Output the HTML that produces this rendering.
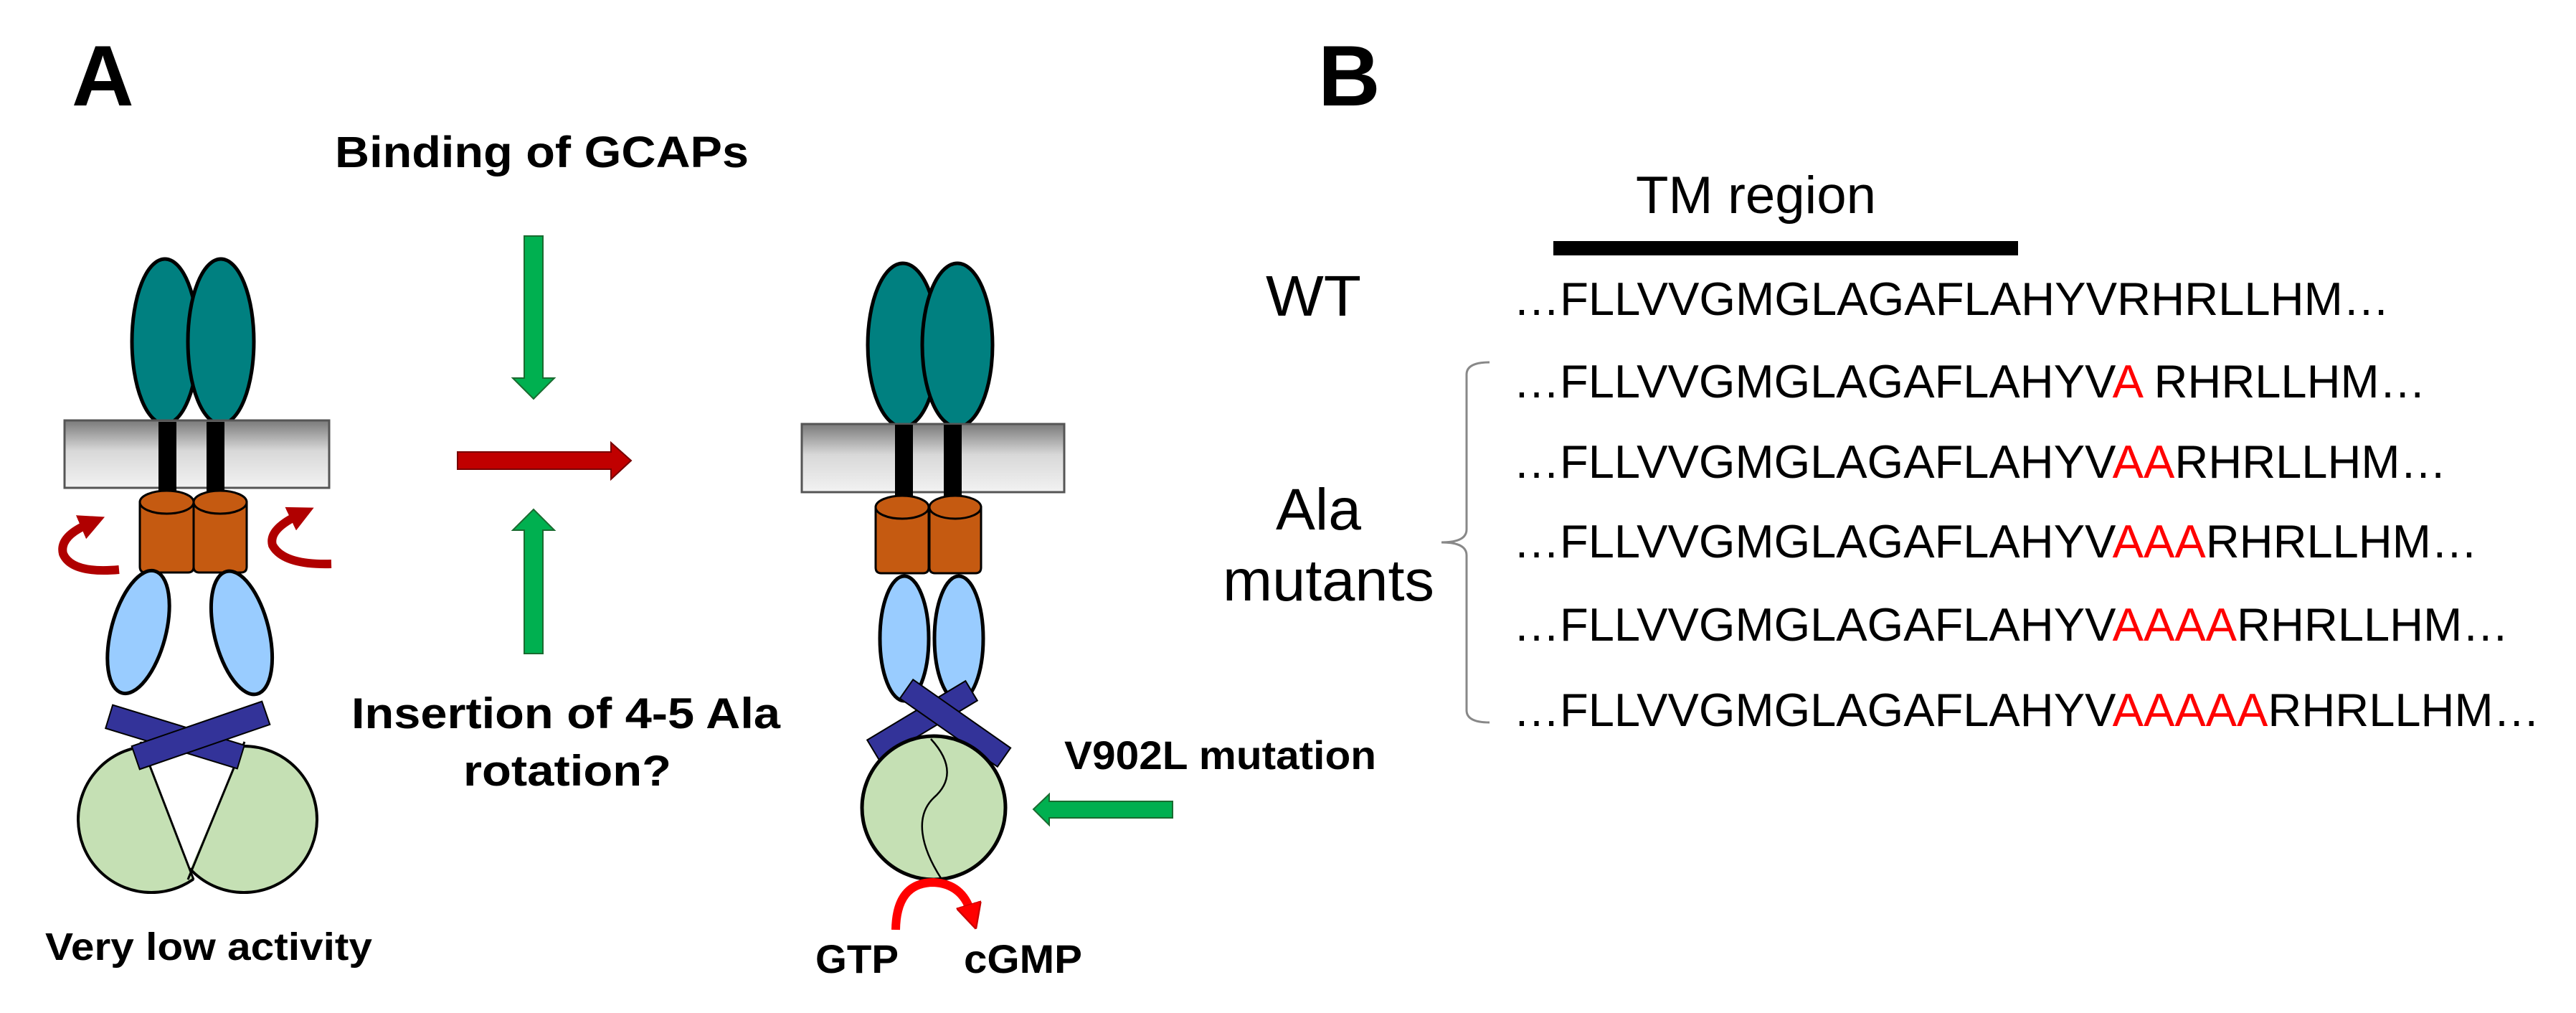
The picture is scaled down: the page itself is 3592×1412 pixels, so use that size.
<!DOCTYPE html>
<html><head><meta charset="utf-8"><style>
html,body{margin:0;padding:0;background:#fff;}
svg{display:block;}
</style></head><body>
<svg width="3592" height="1412" viewBox="0 0 3592 1412" xmlns="http://www.w3.org/2000/svg">
<defs>
<linearGradient id="mem" x1="0" y1="0" x2="0" y2="1">
<stop offset="0" stop-color="#7a7a7a"/><stop offset="0.45" stop-color="#d8d8d8"/><stop offset="1" stop-color="#f2f2f2"/>
</linearGradient>
<clipPath id="cl"><polygon points="0,900 144,900 299,1300 0,1300"/></clipPath>
<clipPath id="cr"><polygon points="399,900 600,900 600,1300 227,1300"/></clipPath>
<marker id="rh" markerWidth="3" markerHeight="3" refX="1" refY="1.5" orient="auto" markerUnits="strokeWidth">
<path d="M0,0 L3,1.5 L0,3 Z" fill="#B00000"/></marker>
<marker id="rh2" markerWidth="3" markerHeight="3" refX="1" refY="1.5" orient="auto" markerUnits="strokeWidth">
<path d="M0,0 L3,1.5 L0,3 Z" fill="#FF0000" stroke="#c00" stroke-width="0.2"/></marker>
</defs>
<g font-family="'Liberation Sans', Arial, sans-serif">
<text x="100" y="147" font-size="120" font-weight="bold">A</text>
<text x="1838" y="147" font-size="120" font-weight="bold">B</text>

<text x="467" y="233" font-size="61" font-weight="bold" textLength="577" lengthAdjust="spacingAndGlyphs">Binding of GCAPs</text>

<!-- LEFT PROTEIN -->
<ellipse cx="230" cy="476" rx="46" ry="115" fill="#008080" stroke="#000" stroke-width="5"/>
<ellipse cx="308" cy="476" rx="46" ry="115" fill="#008080" stroke="#000" stroke-width="5"/>
<rect x="90" y="586" width="369" height="94" fill="url(#mem)" stroke="#555" stroke-width="3"/>
<rect x="221" y="588" width="25" height="106" fill="#000"/>
<rect x="288" y="588" width="25" height="106" fill="#000"/>
<g fill="#C55A11" stroke="#000" stroke-width="3">
<path d="M195,700 L195,790 Q195,798 203,798 L262,798 Q270,798 270,790 L270,700 Z"/>
<ellipse cx="232.5" cy="700" rx="37.5" ry="16"/>
<path d="M270,700 L270,790 Q270,798 278,798 L336,798 Q344,798 344,790 L344,700 Z"/>
<ellipse cx="307" cy="700" rx="37" ry="16"/>
</g>
<path d="M166,794 Q100,800 88,772 Q82,748 124,730" fill="none" stroke="#B00000" stroke-width="12" marker-end="url(#rh)"/>
<path d="M462,786 Q395,788 380,760 Q374,738 416,718" fill="none" stroke="#B00000" stroke-width="12" marker-end="url(#rh)"/>
<ellipse cx="193" cy="881" rx="38" ry="88" transform="rotate(15 193 881)" fill="#99CCFF" stroke="#000" stroke-width="5"/>
<ellipse cx="337" cy="882" rx="38" ry="88" transform="rotate(-14 337 882)" fill="#99CCFF" stroke="#000" stroke-width="5"/>
<circle cx="211" cy="1142" r="102" fill="#C5E0B4" stroke="#000" stroke-width="4" clip-path="url(#cl)"/>
<circle cx="340" cy="1142" r="102" fill="#C5E0B4" stroke="#000" stroke-width="4" clip-path="url(#cr)"/>
<line x1="196" y1="1034" x2="270" y2="1226" stroke="#000" stroke-width="3"/>
<line x1="341" y1="1034" x2="262" y2="1226" stroke="#000" stroke-width="3"/>
<rect x="148" y="1010" width="192" height="34" transform="rotate(17 244 1027)" fill="#333399" stroke="#000" stroke-width="2"/>
<rect x="184" y="1008" width="192" height="34" transform="rotate(-19 280 1025)" fill="#333399" stroke="#000" stroke-width="2"/>

<text x="63" y="1338" font-size="54" font-weight="bold" textLength="456" lengthAdjust="spacingAndGlyphs">Very low activity</text>

<!-- MIDDLE ARROWS -->
<polygon points="731,329 757,329 757,527 773,527 744,556 715,527 731,527" fill="#00B050" stroke="#1a6b30" stroke-width="2"/>
<polygon points="731,911 757,911 757,739 773,739 744,710 715,739 731,739" fill="#00B050" stroke="#1a6b30" stroke-width="2"/>
<polygon points="638,630 852,630 852,617 880,642 852,668 852,654 638,654" fill="#C00000" stroke="#700" stroke-width="2"/>

<text x="490" y="1015" font-size="60" font-weight="bold" textLength="598" lengthAdjust="spacingAndGlyphs">Insertion of 4-5 Ala</text>
<text x="646" y="1095" font-size="60" font-weight="bold" textLength="290" lengthAdjust="spacingAndGlyphs">rotation?</text>

<!-- RIGHT PROTEIN -->
<ellipse cx="1259" cy="481" rx="49" ry="114" fill="#008080" stroke="#000" stroke-width="5"/>
<ellipse cx="1335" cy="481" rx="49" ry="114" fill="#008080" stroke="#000" stroke-width="5"/>
<rect x="1118" y="591" width="366" height="95" fill="url(#mem)" stroke="#555" stroke-width="3"/>
<rect x="1248" y="592" width="25" height="110" fill="#000"/>
<rect x="1316" y="592" width="25" height="110" fill="#000"/>
<g fill="#C55A11" stroke="#000" stroke-width="3">
<path d="M1221,707 L1221,791 Q1221,799 1229,799 L1287,799 Q1295,799 1295,791 L1295,707 Z"/>
<ellipse cx="1258" cy="707" rx="37" ry="16"/>
<path d="M1296,707 L1296,791 Q1296,799 1304,799 L1360,799 Q1368,799 1368,791 L1368,707 Z"/>
<ellipse cx="1332" cy="707" rx="36" ry="16"/>
</g>
<ellipse cx="1261" cy="890" rx="34" ry="87" fill="#99CCFF" stroke="#000" stroke-width="5"/>
<ellipse cx="1337" cy="890" rx="34" ry="87" fill="#99CCFF" stroke="#000" stroke-width="5"/>
<rect x="1206" y="988" width="160" height="32" transform="rotate(-31 1286 1004)" fill="#333399" stroke="#000" stroke-width="2"/>
<rect x="1249" y="992" width="166" height="32" transform="rotate(35 1332 1008)" fill="#333399" stroke="#000" stroke-width="2"/>
<circle cx="1302" cy="1126" r="100" fill="#C5E0B4" stroke="#000" stroke-width="5"/>
<path d="M1298,1030 C1330,1065 1325,1092 1302,1112 C1275,1138 1284,1180 1312,1224" fill="none" stroke="#000" stroke-width="2.5"/>
<path d="M1249,1296 Q1250,1230 1302,1230 Q1342,1232 1354,1272" fill="none" stroke="#FF0000" stroke-width="12" marker-end="url(#rh2)"/>
<text x="1137" y="1356" font-size="56" font-weight="bold" textLength="116" lengthAdjust="spacingAndGlyphs">GTP</text>
<text x="1344" y="1356" font-size="56" font-weight="bold" textLength="165" lengthAdjust="spacingAndGlyphs">cGMP</text>
<polygon points="1441,1128 1463,1107 1463,1117 1635,1117 1635,1140 1463,1140 1463,1150" fill="#00B050" stroke="#1a6b30" stroke-width="2"/>
<text x="1484" y="1072" font-size="56" font-weight="bold" textLength="435" lengthAdjust="spacingAndGlyphs">V902L mutation</text>

<!-- PANEL B -->
<text x="2281" y="297" font-size="73" textLength="335" lengthAdjust="spacingAndGlyphs">TM region</text>
<rect x="2166" y="336" width="648" height="20" fill="#000"/>
<text x="1765" y="440" font-size="80" textLength="133" lengthAdjust="spacingAndGlyphs">WT</text>
<text x="1779" y="738" font-size="82" textLength="119" lengthAdjust="spacingAndGlyphs">Ala</text>
<text x="1705" y="837" font-size="82" textLength="295" lengthAdjust="spacingAndGlyphs">mutants</text>
<path d="M2077,505 Q2045,505 2045,522 L2045,738 Q2045,756 2010,756 Q2045,756 2045,774 L2045,990 Q2045,1007 2077,1007" fill="none" stroke="#888" stroke-width="3"/>
<g font-size="65">
<text x="2110" y="439" textLength="1222" lengthAdjust="spacingAndGlyphs">…FLLVVGMGLAGAFLAHYVRHRLLHM…</text>
<text x="2110" y="554" xml:space="preserve">…FLLVVGMGLAGAFLAHYV<tspan fill="#FF0000">A</tspan> RHRLLHM…</text>
<text x="2110" y="666">…FLLVVGMGLAGAFLAHYV<tspan fill="#FF0000">AA</tspan>RHRLLHM…</text>
<text x="2110" y="777">…FLLVVGMGLAGAFLAHYV<tspan fill="#FF0000">AAA</tspan>RHRLLHM…</text>
<text x="2110" y="893">…FLLVVGMGLAGAFLAHYV<tspan fill="#FF0000">AAAA</tspan>RHRLLHM…</text>
<text x="2110" y="1012">…FLLVVGMGLAGAFLAHYV<tspan fill="#FF0000">AAAAA</tspan>RHRLLHM…</text>
</g>
</g>
</svg>
</body></html>
